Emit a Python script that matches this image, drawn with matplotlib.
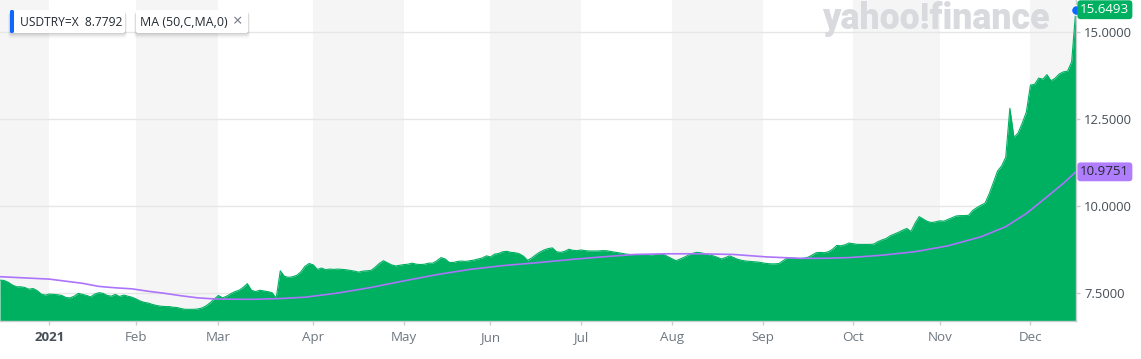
import matplotlib
matplotlib.use('Agg')
import matplotlib.pyplot as plt
import matplotlib.transforms as mtransforms
from matplotlib.patches import FancyBboxPatch
import numpy as np
import pandas as pd

# ---------------- data ----------------
start_date = '2020-12-16'
end_date = '2021-12-16'

close = [
    7.86, 7.85, 7.80, 7.72, 7.67, 7.67, 7.65, 7.60, 7.62, 7.56,
    7.46, 7.43, 7.46, 7.45, 7.44, 7.42, 7.36, 7.35, 7.40, 7.48,
    7.45, 7.42, 7.38, 7.46, 7.50, 7.48, 7.42, 7.40, 7.45, 7.39,
    7.43, 7.40, 7.37, 7.32, 7.26, 7.22, 7.20, 7.16, 7.13, 7.11,
    7.10, 7.10, 7.08, 7.07, 7.04, 7.02, 7.02, 7.02, 7.03, 7.06,
    7.12, 7.21, 7.32, 7.42, 7.35, 7.40, 7.47, 7.53, 7.57, 7.65,
    7.76, 7.57, 7.53, 7.57, 7.55, 7.53, 7.50, 7.34, 8.13, 7.97,
    7.94, 7.96, 8.00, 8.10, 8.26, 8.34, 8.30, 8.17, 8.21, 8.16,
    8.18, 8.17, 8.18, 8.17, 8.16, 8.14, 8.12, 8.09, 8.12, 8.13,
    8.14, 8.23, 8.34, 8.42, 8.36, 8.30, 8.27, 8.29, 8.31, 8.32,
    8.35, 8.32, 8.31, 8.32, 8.35, 8.35, 8.42, 8.51, 8.47, 8.37,
    8.37, 8.40, 8.41, 8.40, 8.42, 8.44, 8.47, 8.50, 8.56, 8.53,
    8.61, 8.63, 8.68, 8.69, 8.66, 8.65, 8.62, 8.55, 8.43, 8.50,
    8.59, 8.67, 8.73, 8.77, 8.79, 8.68, 8.66, 8.69, 8.75, 8.72,
    8.71, 8.73, 8.71, 8.70, 8.70, 8.70, 8.71, 8.71, 8.69, 8.67,
    8.65, 8.63, 8.61, 8.60, 8.60, 8.60, 8.60, 8.60, 8.59, 8.60,
    8.60, 8.60, 8.54, 8.48, 8.42, 8.47, 8.52, 8.58, 8.63, 8.66,
    8.65, 8.62, 8.59, 8.56, 8.52, 8.47, 8.51, 8.56, 8.51, 8.46,
    8.43, 8.41, 8.40, 8.39, 8.38, 8.36, 8.34, 8.33, 8.33, 8.34,
    8.42, 8.50, 8.50, 8.49, 8.48, 8.49, 8.52, 8.58, 8.65, 8.66,
    8.65, 8.68, 8.75, 8.86, 8.85, 8.88, 8.93, 8.91, 8.89, 8.89,
    8.89, 8.89, 8.90, 8.97, 9.02, 9.06, 9.14, 9.19, 9.24, 9.30,
    9.35, 9.26, 9.50, 9.69, 9.62, 9.55, 9.52, 9.54, 9.57, 9.56,
    9.61, 9.66, 9.71, 9.72, 9.72, 9.73, 9.87, 9.95, 10.02, 10.08,
    10.35, 10.67, 11.00, 11.15, 11.40, 12.81, 11.97, 12.10, 12.38, 12.70,
    13.48, 13.50, 13.68, 13.65, 13.78, 13.60, 13.68, 13.80, 13.86, 13.88,
    14.15, 15.65,
]

# 50-day moving average, read at these trading-day positions
ma_idx = [0, 12, 16, 20, 24, 28, 32, 36, 40, 44, 48, 52, 57, 62, 68, 74,
          82, 90, 98, 106, 114, 122, 130, 138, 146, 154, 162, 170, 178,
          186, 194, 200, 206, 214, 222, 230, 238, 244, 249, 254, 258, 261]
ma_val = [7.96, 7.89, 7.83, 7.77, 7.68, 7.64, 7.61, 7.54, 7.48, 7.41,
          7.35, 7.32, 7.31, 7.31, 7.33, 7.37, 7.49, 7.65, 7.84, 8.02,
          8.17, 8.28, 8.36, 8.45, 8.53, 8.60, 8.62, 8.62, 8.60, 8.53,
          8.49, 8.49, 8.51, 8.58, 8.68, 8.85, 9.11, 9.40, 9.78, 10.26,
          10.65, 10.98]

y_ticks = [7.5, 10.0, 12.5, 15.0]
y_tick_labels = ['7.5000', '10.0000', '12.5000', '15.0000']
last_price_label = '15.6493'
last_ma_label = '10.9751'
legend_price = 'USDTRY=X  8.7792'
legend_ma = 'MA (50,C,MA,0)'
watermark = 'yahoo!finance'

# ---------------- styling ----------------
GREEN = '#00b061'
PURPLE = '#ab74fb'
BLUE = '#0f69ff'
BAND = '#f5f5f5'
FONT = ['Open Sans', 'DejaVu Sans']
plt.rcParams['font.family'] = FONT

W, H = 1141, 359
fig = plt.figure(figsize=(W / 100, H / 100), dpi=100)
fig.patch.set_facecolor('white')

dates = pd.bdate_range(start_date, end_date)
n = len(close)
dates = dates[:n]
x = np.arange(n)

plot_bottom_px = 321
plot_right_px = 1076
ax = fig.add_axes([0, 1 - plot_bottom_px / H, plot_right_px / W, plot_bottom_px / H])
ax.set_xlim(0, 261.05)
ax.set_ylim(6.684, 15.93)

# month starts
month_starts = [i for i in range(1, n) if dates[i].month != dates[i - 1].month]
month_labels = ['2021' if dates[i].month == 1 else dates[i].strftime('%b') for i in month_starts]

# alternating month bands (even months shaded)
seg_starts = [ax.get_xlim()[0]] + month_starts
seg_ends = month_starts + [ax.get_xlim()[1]]
seg_months = [dates[0].month] + [dates[i].month for i in month_starts]
for s, e, m in zip(seg_starts, seg_ends, seg_months):
    if m % 2 == 0:
        ax.axvspan(s, e, color=BAND, lw=0, zorder=0.1)

# grid
ax.set_yticks(y_ticks)
ax.set_yticklabels(y_tick_labels)
ax.yaxis.grid(True, color='#e6e6e6', lw=1.0)
ax.set_axisbelow(True)

# area
ax.fill_between(x, close, ax.get_ylim()[0], color=GREEN, lw=0, zorder=2)
ax.plot(x, close, color=GREEN, lw=0.8, zorder=2.1)

# MA line
ax.plot(ma_idx, ma_val, color=PURPLE, lw=1.2, zorder=3)

# last point dot
ax.plot(x[-1], close[-1], 'o', color=BLUE, ms=7, mec='white', mew=0.8, zorder=6, clip_on=False)

# axes styling
for s in ['top', 'left']:
    ax.spines[s].set_visible(False)
for s in ['right', 'bottom']:
    ax.spines[s].set_color('#c9cdd1')
    ax.spines[s].set_linewidth(1.0)
ax.yaxis.tick_right()
ax.tick_params(axis='y', colors='#c9cdd1', labelcolor='#464e56', length=3, width=1,
               pad=3, labelsize=9.4)
ax.set_xticks(month_starts)
ax.set_xticklabels(month_labels)
ax.tick_params(axis='x', colors='#c9cdd1', labelcolor='#6e7780', length=3, width=1,
               pad=4, labelsize=9.6)
for lab in ax.get_xticklabels():
    if lab.get_text() == '2021':
        lab.set_color('#464e56')
        lab.set_fontweight('bold')

# value labels on right axis
trans = mtransforms.blended_transform_factory(ax.transAxes, ax.transData)
ax.text(1.004, close[-1], last_price_label, transform=trans, ha='left', va='center',
        color='white', fontsize=9.6, clip_on=False, zorder=7,
        bbox=dict(boxstyle='round,pad=0.22,rounding_size=0.25', fc=GREEN, ec='none'))
ax.text(1.004, ma_val[-1], last_ma_label, transform=trans, ha='left', va='center',
        color='#232a31', fontsize=9.6, clip_on=False, zorder=7,
        bbox=dict(boxstyle='round,pad=0.22,rounding_size=0.25', fc='#b07dfc', ec='none'))

# ---------------- overlay (legend chips, watermark) ----------------
ov = fig.add_axes([0, 0, 1, 1], zorder=10)
ov.set_xlim(0, W)
ov.set_ylim(H, 0)
ov.axis('off')
ov.patch.set_alpha(0)

wm = ov.text(822, 29, watermark, ha='left', va='baseline', color='#d8dade',
             fontsize=22, fontweight='heavy', family=['Roboto', 'DejaVu Sans'], zorder=1)
fig.canvas.draw()
bb = wm.get_window_extent()
wm.set_fontsize(22 * 227 / bb.width)


def chip(x0, y0, w, h):
    for k, a in zip(range(1, 5), [0.06, 0.05, 0.035, 0.02]):
        ov.add_patch(FancyBboxPatch((x0 - k * 0.5, y0 + k * 0.8), w + k, h + k * 0.6,
                                    boxstyle='round,pad=0,rounding_size=3',
                                    fc='black', ec='none', alpha=a, zorder=2))
    ov.add_patch(FancyBboxPatch((x0, y0), w, h, boxstyle='round,pad=0,rounding_size=2',
                                fc='white', ec='none', zorder=3))


chip(10, 10, 115, 23)
ov.add_patch(FancyBboxPatch((10, 10), 4, 23, boxstyle='round,pad=0,rounding_size=1.5',
                            fc=BLUE, ec='none', zorder=4))
t1 = ov.text(20, 22, legend_price, ha='left', va='center', color='#232a31', fontsize=9.4, zorder=5)
t2 = ov.text(139.5, 22, legend_ma, ha='left', va='center', color='#232a31', fontsize=9.4, zorder=5)
fig.canvas.draw()
b1 = t1.get_window_extent()
t1.set_fontsize(9.4 * 101 / b1.width)
b2 = t2.get_window_extent()
t2.set_fontsize(9.4 * 87 / b2.width)

chip(136, 10, 112, 23)
ov.text(237.5, 22, '\u00d7', ha='center', va='center', color='#6e7780', fontsize=12, zorder=5)

fig.savefig('out.png', dpi=100, facecolor='white')
